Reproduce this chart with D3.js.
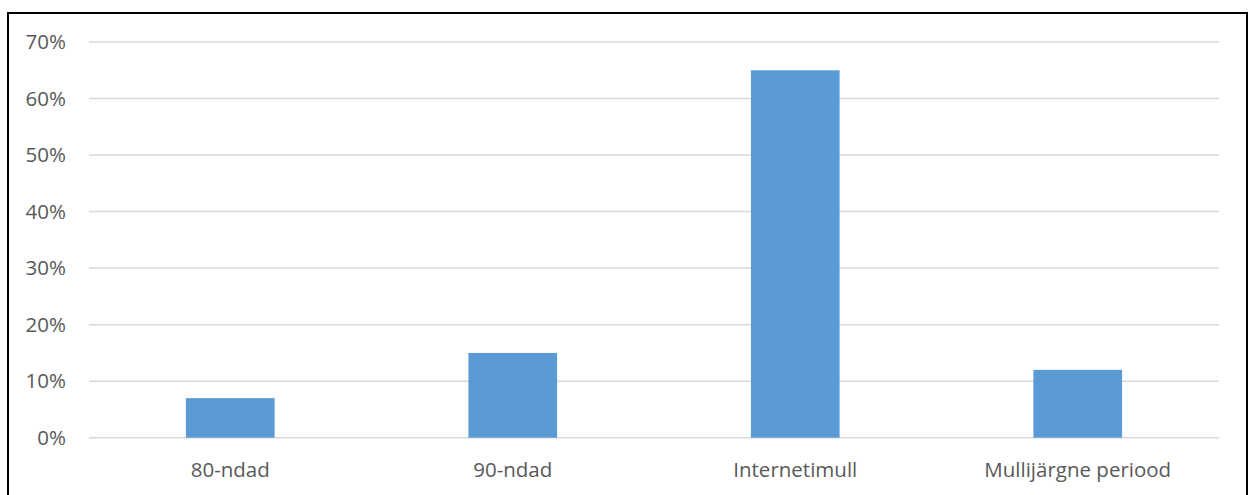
<!DOCTYPE html>
<html>
<head>
<meta charset="utf-8">
<script src="https://cdn.jsdelivr.net/npm/d3@7"></script>
<style>
  html, body { margin: 0; padding: 0; background: #fff; }
  svg { display: block; }
  text { font-family: "Open Sans", "Liberation Sans", sans-serif; fill: #595959; }
</style>
</head>
<body>
<svg id="chart" width="1251" height="495"></svg>
<script>
// Share of answers per period
const categories = ["80-ndad", "90-ndad", "Internetimull", "Mullijärgne periood"];
const values = [0.07, 0.15, 0.65, 0.12];
const yTicks = [0, 0.1, 0.2, 0.3, 0.4, 0.5, 0.6, 0.7];

const svg = d3.select("#chart");
const W = 1251, H = 495;
const margin = { left: 89, right: 32, top: 42, bottom: 57 };
const fontSize = "20.5px";

// outer frame
svg.append("rect")
  .attr("x", 8).attr("y", 13)
  .attr("width", 1239).attr("height", 500)
  .attr("fill", "none").attr("stroke", "#000").attr("stroke-width", 2);

const x = d3.scaleBand()
  .domain(categories)
  .range([margin.left, W - margin.right])
  .paddingInner(0.686)
  .paddingOuter(0.343);

const y = d3.scaleLinear()
  .domain([0, 0.7])
  .range([H - margin.bottom - 0.3, margin.top]);

// horizontal gridlines
svg.append("g")
  .selectAll("line")
  .data(yTicks)
  .join("line")
  .attr("x1", margin.left).attr("x2", W - margin.right)
  .attr("y1", d => y(d)).attr("y2", d => y(d))
  .attr("stroke", "#d9d9d9").attr("stroke-width", 1.5);

// y axis labels
const yAxis = d3.axisLeft(y)
  .tickValues(yTicks)
  .tickFormat(d3.format(".0%"))
  .tickSize(0)
  .tickPadding(23);
const gy = svg.append("g").attr("transform", `translate(${margin.left},0)`).call(yAxis);
gy.select(".domain").remove();
gy.selectAll("text")
  .style("font-size", fontSize)
  .style("font-family", "'Open Sans', sans-serif")
  .attr("fill", "#595959");

// bars
svg.append("g")
  .selectAll("rect")
  .data(categories)
  .join("rect")
  .attr("x", d => x(d))
  .attr("width", x.bandwidth())
  .attr("y", (d, i) => y(values[i]))
  .attr("height", (d, i) => y(0) - y(values[i]))
  .attr("fill", "#5b9bd5");

// category axis
const xAxis = d3.axisBottom(x).tickSize(0).tickPadding(25);
const gx = svg.append("g").attr("transform", `translate(0,${y(0)})`).call(xAxis);
gx.select(".domain").remove();
gx.selectAll("text")
  .style("font-size", fontSize)
  .style("font-family", "'Open Sans', sans-serif")
  .attr("fill", "#595959");
</script>
</body>
</html>
